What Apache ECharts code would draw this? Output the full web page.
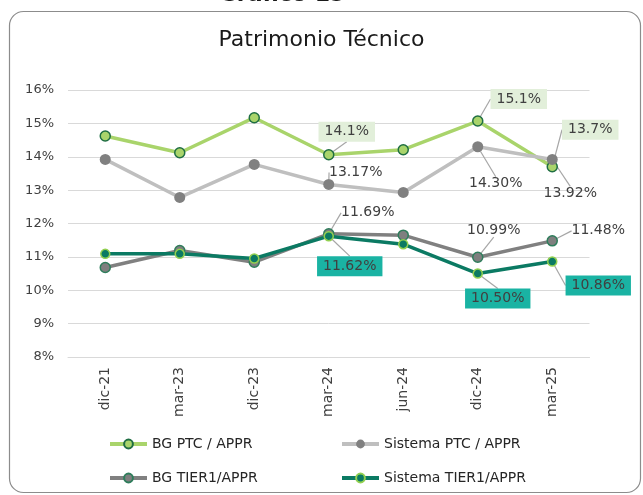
<!DOCTYPE html>
<html>
<head>
<meta charset="utf-8">
<script src="https://cdn.jsdelivr.net/npm/echarts@6/dist/echarts.min.js"></script>
<style>
  html, body { margin: 0; padding: 0; background: #fff; }
  #chart { width: 643px; height: 495px; }
</style>
</head>
<body>
<div id="chart"></div>
<script>
  // datos
  var categories = ['dic-21', 'mar-23', 'dic-23', 'mar-24', 'jun-24', 'dic-24', 'mar-25'];
  var bgPtc = [14.62, 14.12, 15.17, 14.06, 14.21, 15.07, 13.70];
  var sisPtc = [13.92, 12.78, 13.77, 13.17, 12.93, 14.30, 13.92];
  var bgTier1 = [10.68, 11.19, 10.84, 11.69, 11.65, 10.99, 11.48];
  var sisTier1 = [11.09, 11.09, 10.95, 11.62, 11.38, 10.50, 10.86];
  var labeledIdx = [3, 5, 6];

  var FONT = 'DejaVu Sans';

  // desplazamiento de etiquetas (centro etiqueta - punto)
  var labelShift = {
    bgPtc:    { 3: [18, -23], 5: [41, -22], 6: [38, -37] },
    sisPtc:   { 3: [27, -12], 5: [18, 37],  6: [18, 34] },
    bgTier1:  { 3: [39, -21], 5: [16, -27], 6: [46, -10] },
    sisTier1: { 3: [21, 30],  5: [20, 25],  6: [46, 24] }
  };

  function mkData(values){
    return values.map(function(v, i){
      return { value: v, label: { show: labeledIdx.indexOf(i) >= 0 } };
    });
  }

  function mkLayout(key){
    return function(p){
      var s = labelShift[key][p.dataIndex];
      if(!s) return {};
      return { dx: s[0], dy: s[1] };
    };
  }

  function mkSeries(name, key, values, lineColor, symColor, symBorder, decimals, labelBg, size){
    return {
      name: name,
      type: 'line',
      data: mkData(values),
      symbol: 'circle',
      symbolSize: size,
      lineStyle: { color: lineColor, width: 3.5 },
      itemStyle: { color: symColor, borderColor: symBorder, borderWidth: symBorder ? 1.5 : 0 },
      label: {
        show: false,
        position: 'inside',
        fontFamily: FONT,
        fontSize: 14,
        color: '#404040',
        backgroundColor: labelBg || 'transparent',
        padding: labelBg ? [3, 6] : 0,
        formatter: function(p){ return p.value.toFixed(decimals) + '%'; }
      },
      labelLine: { show: true, lineStyle: { color: '#a6a6a6', width: 1.2 } },
      labelLayout: mkLayout(key),
      emphasis: { disabled: true }
    };
  }

  function mkLegend(name, left, top){
    return {
      data: [name],
      left: left,
      top: top,
      padding: 0,
      itemWidth: 37,
      itemHeight: 11,
      itemGap: 0,
      lineStyle: { width: 4 },
      textStyle: { fontFamily: FONT, fontSize: 14, color: '#262626' }
    };
  }

  var chart = echarts.init(document.getElementById('chart'));
  chart.setOption({
    animation: false,
    graphic: [
      {
        type: 'rect',
        shape: { x: 9.5, y: 11.5, width: 631, height: 481, r: 14 },
        style: { fill: 'none', stroke: '#8c8c8c', lineWidth: 1.2 },
        z: -1
      },
      {
        type: 'text',
        x: 282,
        y: 6,
        style: { text: 'Gráfico 15', align: 'center', verticalAlign: 'bottom', fontFamily: FONT, fontSize: 22, fontWeight: 'bold', fill: '#1a1a1a' }
      }
    ],
    title: {
      text: 'Patrimonio Técnico',
      left: 'center',
      top: 24,
      textStyle: { fontFamily: FONT, fontSize: 22, fontWeight: 'normal', color: '#1a1a1a' }
    },
    legend: [
      mkLegend('BG PTC / APPR', 108, 437),
      mkLegend('Sistema PTC / APPR', 340, 437),
      mkLegend('BG TIER1/APPR', 108, 471),
      mkLegend('Sistema TIER1/APPR', 340, 471)
    ],
    grid: { left: 68, right: 53.5, top: 90, bottom: 138 },
    xAxis: {
      type: 'category',
      data: categories,
      axisTick: { show: false },
      axisLine: { lineStyle: { color: '#d9d9d9' } },
      axisLabel: { rotate: 90, margin: 10, fontFamily: FONT, fontSize: 14, color: '#404040' }
    },
    yAxis: {
      type: 'value',
      min: 8,
      max: 16,
      interval: 1,
      axisLabel: { formatter: '{value}%', margin: 14, fontFamily: FONT, fontSize: 13, color: '#404040' },
      splitLine: { lineStyle: { color: '#d9d9d9', width: 1 } },
      axisLine: { show: false },
      axisTick: { show: false }
    },
    series: [
      mkSeries('BG PTC / APPR', 'bgPtc', bgPtc, '#a9d46b', '#a9d46b', '#1f6e43', 1, '#e2efda', 10),
      mkSeries('Sistema PTC / APPR', 'sisPtc', sisPtc, '#bfbfbf', '#808080', null, 2, null, 11),
      mkSeries('BG TIER1/APPR', 'bgTier1', bgTier1, '#808080', '#7f7f7f', '#2e7d5b', 2, null, 10),
      mkSeries('Sistema TIER1/APPR', 'sisTier1', sisTier1, '#0b7a63', '#0b7a63', '#92d050', 2, '#1ab3a3', 9)
    ]
  });
</script>
</body>
</html>
